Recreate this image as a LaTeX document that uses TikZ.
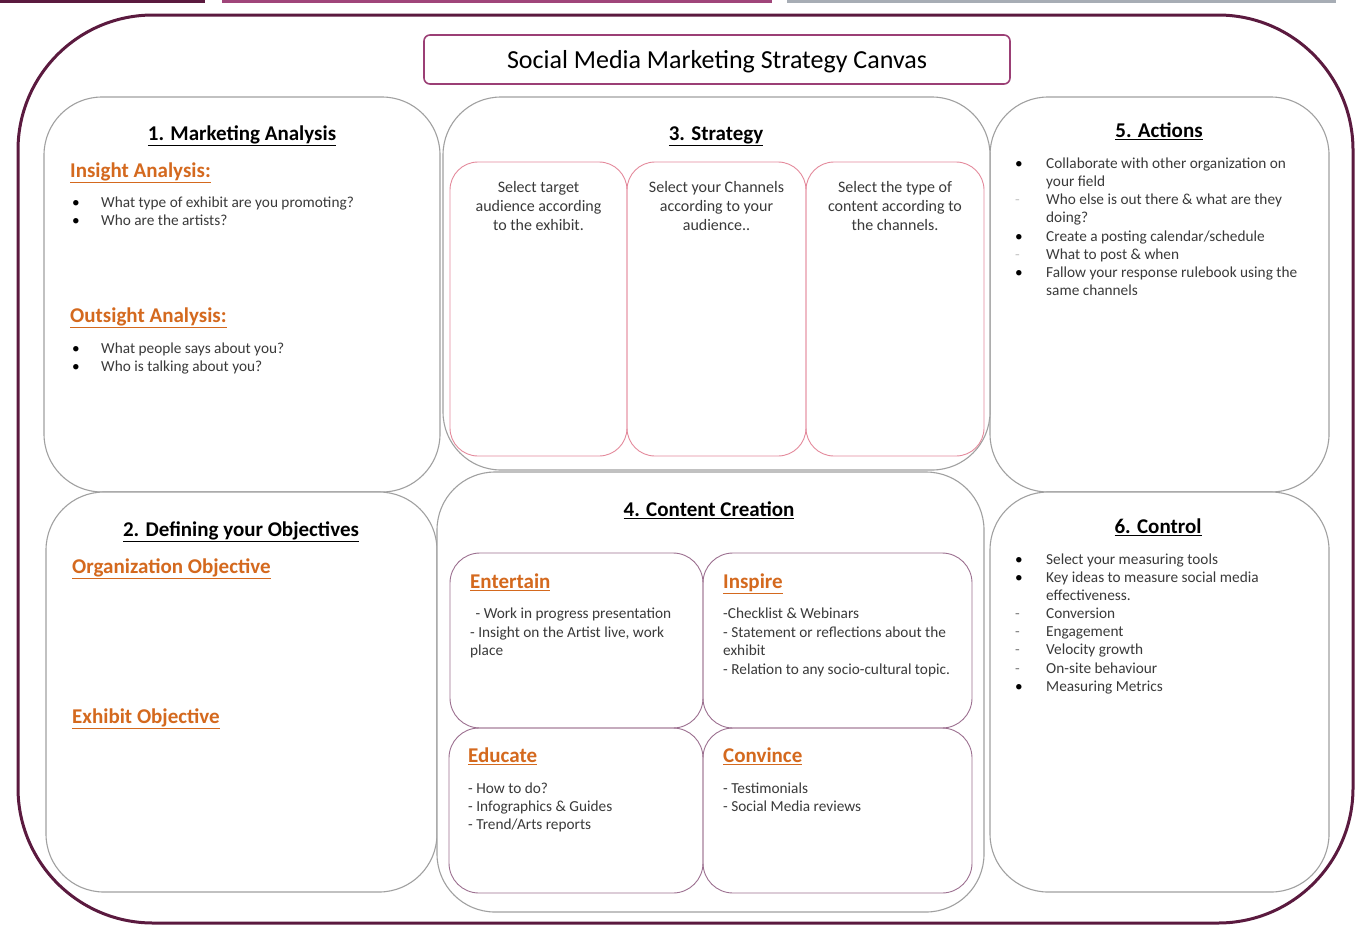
\documentclass[tikz,border=0pt]{standalone}
\usepackage{fontspec}
\setmainfont{Carlito}
\definecolor{framec}{HTML}{5B1A3F}
\definecolor{barmag}{HTML}{A0457A}
\definecolor{bargray}{HTML}{A7ADB5}
\definecolor{titlec}{HTML}{9B3F75}
\definecolor{panelc}{HTML}{A0A0A0}
\definecolor{pinkc}{HTML}{E48A9C}
\definecolor{contc}{HTML}{9C7090}
\definecolor{orangec}{HTML}{D4691E}
\definecolor{bodyc}{HTML}{3A3A3A}
\definecolor{dashc}{HTML}{C4C4C4}
\definecolor{dashd}{HTML}{7A7A7A}
\begin{document}
\begin{tikzpicture}[x=1pt,y=-1pt,
  panel/.style={draw=panelc,line width=1.1pt,rounded corners=58pt,fill=white,inner sep=0pt},
  stratbox/.style={draw=pinkc,line width=0.9pt,rounded corners=28pt,inner sep=0pt},
  contbox/.style={draw=contc,line width=0.9pt,rounded corners=30pt,inner sep=0pt},
  headtxt/.style={font=\fontsize{21}{25}\selectfont\bfseries,text=black,inner sep=0pt,anchor=mid,yshift=-3pt},
  subtxt/.style={font=\fontsize{21}{25}\selectfont\bfseries,text=orangec,inner sep=0pt,anchor=mid west,yshift=-3pt},
  bodytxt/.style={font=\fontsize{15.3}{18}\selectfont,text=bodyc,inner sep=0pt,anchor=mid west,yshift=-1.5pt},
  bmark/.style={font=\fontsize{15.3}{18}\selectfont,text=black,inner sep=0pt,anchor=mid west,yshift=-1.5pt},
  lmark/.style={font=\fontsize{15.3}{18}\selectfont,text=dashc,inner sep=0pt,anchor=mid west,yshift=-1.5pt},
  dmark/.style={font=\fontsize{15.3}{18}\selectfont,text=dashd,inner sep=0pt,anchor=mid west,yshift=-1.5pt},
  stext/.style={font=\fontsize{16}{19}\selectfont,text=bodyc,inner sep=0pt,align=center,anchor=north}]
\useasboundingbox (0,0) rectangle (1356,926);
% top bars
\fill[framec] (0,0) rectangle (205,3);
\fill[barmag] (222,0) rectangle (772,3);
\fill[bargray] (787,0) rectangle (1336,3);
% outer frame
\draw[framec,line width=3pt,rounded corners=135pt] (18,15) rectangle (1353,923);
% title
\node[draw=titlec,line width=1.6pt,rounded corners=6pt,minimum width=586pt,minimum height=49pt,inner sep=0pt] (title) at (717,59.5) {};
\node[font=\fontsize{26}{30}\selectfont,text=black,inner sep=0pt,anchor=mid] (titletxt) at (717,66) {Social Media Marketing Strategy Canvas};
% panels
\node[panel,minimum width=396pt,minimum height=395pt] (p1) at (242,294.5) {};
\node[panel,minimum width=339pt,minimum height=395pt] (p5) at (1159.5,294.5) {};
\node[panel,minimum width=391pt,minimum height=400pt] (p2) at (241.5,692) {};
\node[panel,minimum width=339pt,minimum height=400pt] (p6) at (1159.5,692) {};
\node[panel,minimum width=547pt,minimum height=373pt] (p3) at (716.5,283.5) {};
\node[panel,minimum width=547pt,minimum height=440pt] (p4) at (710.5,692) {};
% strategy boxes
\node[stratbox,minimum width=177pt,minimum height=294pt] (sa) at (538.5,309) {};
\node[stratbox,minimum width=179pt,minimum height=294pt] (sb) at (716.5,309) {};
\node[stratbox,minimum width=178pt,minimum height=294pt] (sc) at (895,309) {};
% content boxes
\node[contbox,minimum width=253pt,minimum height=175pt] (ent) at (576.5,640.5) {};
\node[contbox,minimum width=269pt,minimum height=175pt] (ins) at (837.5,640.5) {};
\node[contbox,minimum width=254pt,minimum height=165pt] (edu) at (576,810.5) {};
\node[contbox,minimum width=269pt,minimum height=165pt] (con) at (837.5,810.5) {};

% ---- Panel 1
\node[headtxt] (h1) at (242,135) {\underline{1. Marketing Analysis}};
\node[subtxt] (ia) at (70,172) {\underline{Insight Analysis:}};
\node[bmark] (m11) at (72,204) {\textbullet};
\node[bodytxt] (t11) at (101,204) {What type of exhibit are you promoting?};
\node[bmark] (m12) at (72,222) {\textbullet};
\node[bodytxt] (t12) at (101,222) {Who are the artists?};
\node[subtxt] (oa) at (70,317) {\underline{Outsight Analysis:}};
\node[bmark] (m13) at (72,350) {\textbullet};
\node[bodytxt] (t13) at (101,350) {What people says about you?};
\node[bmark] (m14) at (72,368) {\textbullet};
\node[bodytxt] (t14) at (101,368) {Who is talking about you?};

% ---- Panel 3
\node[headtxt] (h3) at (716,135) {\underline{3. Strategy}};
\node[stext] (sta) at (538.5,181) {Select target\\audience according\\to the exhibit.};
\node[stext] (stb) at (716.5,181) {Select your Channels\\according to your\\audience..};
\node[stext] (stc) at (895,181) {Select the type of\\content according to\\the channels.};

% ---- Panel 5
\node[headtxt] (h5) at (1159,132) {\underline{5. Actions}};
\node[bmark] (m51) at (1015,165) {\textbullet};
\node[bodytxt] (t51) at (1046,165) {Collaborate with other organization on};
\node[bodytxt] (t52) at (1046,183) {your field};
\node[lmark] (m53) at (1015,201) {-};
\node[bodytxt] (t53) at (1046,201) {Who else is out there \& what are they};
\node[bodytxt] (t54) at (1046,219) {doing?};
\node[bmark] (m55) at (1015,238) {\textbullet};
\node[bodytxt] (t55) at (1046,238) {Create a posting calendar/schedule};
\node[lmark] (m56) at (1015,256) {-};
\node[bodytxt] (t56) at (1046,256) {What to post \& when};
\node[bmark] (m57) at (1015,274) {\textbullet};
\node[bodytxt] (t57) at (1046,274) {Fallow your response rulebook using the};
\node[bodytxt] (t58) at (1046,292) {same channels};

% ---- Panel 2
\node[headtxt] (h2) at (241,531) {\underline{2. Defining your Objectives}};
\node[subtxt] (oo) at (72,568) {\underline{Organization Objective}};
\node[subtxt] (eo) at (72,718) {\underline{Exhibit Objective}};

% ---- Panel 4
\node[headtxt] (h4) at (709,511) {\underline{4. Content Creation}};
\node[subtxt] (se) at (470,583) {\underline{Entertain}};
\node[bodytxt] (e1) at (472,615) {\ - Work in progress presentation};
\node[bodytxt] (e2) at (470,634) {- Insight on the Artist live, work};
\node[bodytxt] (e3) at (470,652) {place};
\node[subtxt] (si) at (723,583) {\underline{Inspire}};
\node[bodytxt] (i1) at (723,615) {-Checklist \& Webinars};
\node[bodytxt] (i2) at (723,634) {- Statement or reflections about the};
\node[bodytxt] (i3) at (723,652) {exhibit};
\node[bodytxt] (i4) at (723,671) {- Relation to any socio-cultural topic.};
\node[subtxt] (sd) at (468,757) {\underline{Educate}};
\node[bodytxt] (d1) at (468,790) {- How to do?};
\node[bodytxt] (d2) at (468,808) {- Infographics \& Guides};
\node[bodytxt] (d3) at (468,826) {- Trend/Arts reports};
\node[subtxt] (sv) at (723,757) {\underline{Convince}};
\node[bodytxt] (v1) at (723,790) {- Testimonials};
\node[bodytxt] (v2) at (723,808) {- Social Media reviews};

% ---- Panel 6
\node[headtxt] (h6) at (1158,528) {\underline{6. Control}};
\node[bmark] (m61) at (1015,561) {\textbullet};
\node[bodytxt] (t61) at (1046,561) {Select your measuring tools};
\node[bmark] (m62) at (1015,579) {\textbullet};
\node[bodytxt] (t62) at (1046,579) {Key ideas to measure social media};
\node[bodytxt] (t63) at (1046,597) {effectiveness.};
\node[dmark] (m64) at (1015,615) {-};
\node[bodytxt] (t64) at (1046,615) {Conversion};
\node[dmark] (m65) at (1015,633) {-};
\node[bodytxt] (t65) at (1046,633) {Engagement};
\node[dmark] (m66) at (1015,651) {-};
\node[bodytxt] (t66) at (1046,651) {Velocity growth};
\node[dmark] (m67) at (1015,670) {-};
\node[bodytxt] (t67) at (1046,670) {On-site behaviour};
\node[bmark] (m68) at (1015,688) {\textbullet};
\node[bodytxt] (t68) at (1046,688) {Measuring Metrics};
\end{tikzpicture}
\end{document}
